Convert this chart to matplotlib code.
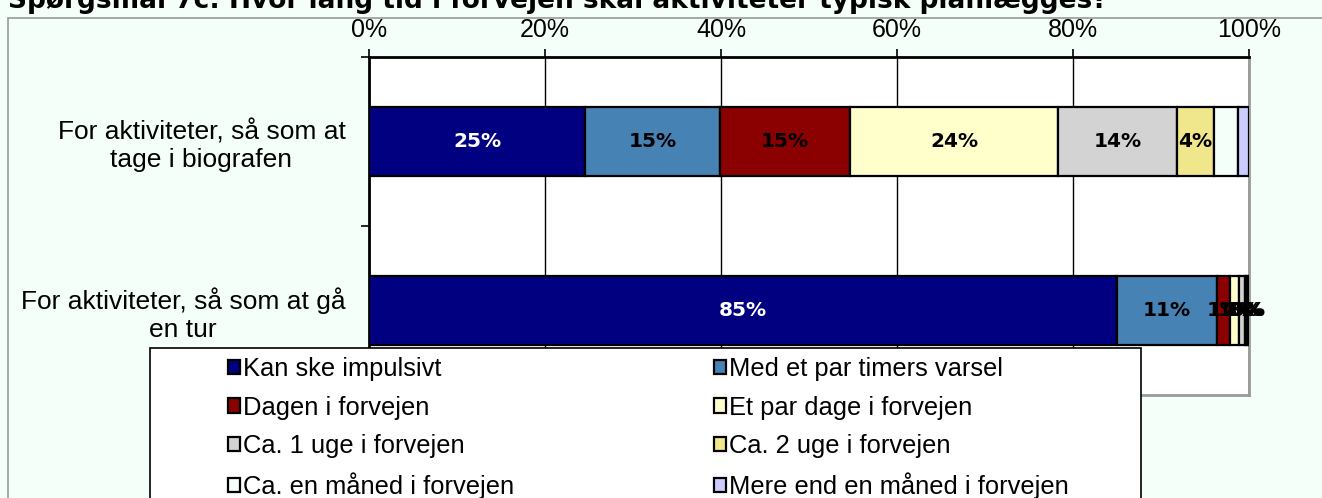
import matplotlib.pyplot as plt
from matplotlib.patches import Rectangle
from matplotlib.ticker import FixedLocator, PercentFormatter

categories = ["For aktiviteter, så som at\ntage i biografen",
              "For aktiviteter, så som at gå\nen tur"]
series = ["Kan ske impulsivt", "Med et par timers varsel",
          "Dagen i forvejen", "Et par dage i forvejen",
          "Ca. 1 uge i forvejen", "Ca. 2 uge i forvejen",
          "Ca. en måned i forvejen", "Mere end en måned i forvejen"]
values_bio = [24.6, 15.3, 14.8, 23.6, 13.5, 4.2, 2.7, 1.3]
values_tur = [85.0, 11.4, 1.4, 1.1, 0.6, 0.2, 0.2, 0.1]
labels_bio = ["25%", "15%", "15%", "24%", "14%", "4%", "", ""]
labels_tur = ["85%", "11%", "1%", "1%", "1%", "0%", "0%", "0%"]
colors = ["#000080", "#4682B4", "#8B0000", "#FFFFCC",
          "#D3D3D3", "#F0E68C", "#F5FFFA", "#CCCCFF"]
text_colors = ["white", "black", "black", "black",
               "black", "black", "black", "black"]
title = "Spørgsmål 7c: Hvor lang tid i forvejen skal aktiviteter typisk planlægges?"

W, H = 1322, 498
BG = "#F5FFFA"

plt.rcParams["font.family"] = ["Liberation Sans", "DejaVu Sans"]

fig = plt.figure(figsize=(W / 100, H / 100), dpi=100, facecolor=BG)

# chart area border
fig.patches.append(Rectangle((8 / W, -0.1), 1.2, 1.1 - 18 / H,
                             transform=fig.transFigure, facecolor="none",
                             edgecolor="#999999", linewidth=1.2))

fig.text(8 / W, 1 - 8 / H, title, fontsize=19, fontweight="bold",
         family="DejaVu Sans", va="baseline", ha="left")

ax = fig.add_axes([369 / W, 1 - 395 / H, 880 / W, 338 / H])
ax.set_facecolor("white")

rows = [(values_bio, labels_bio), (values_tur, labels_tur)]
for i, (vals, labs) in enumerate(rows):
    left = 0.0
    for j, v in enumerate(vals):
        ax.barh(i, v, left=left, height=0.41, color=colors[j],
                edgecolor="black", linewidth=1.6, zorder=3,
                label=series[j] if i == 0 else None)
        if labs[j]:
            ax.text(left + v / 2, i, labs[j], ha="center", va="center",
                    fontsize=14.5, fontweight="bold", family="DejaVu Sans",
                    color=text_colors[j], zorder=4)
        left += v

ax.set_xlim(0, 100)
ax.set_ylim(1.5, -0.5)
ax.xaxis.set_major_locator(FixedLocator([0, 20, 40, 60, 80, 100]))
ax.xaxis.set_major_formatter(PercentFormatter(decimals=0))
ax.xaxis.tick_top()
ax.tick_params(axis="x", direction="out", length=6, width=1.2,
               labelsize=18, pad=5)
ax.grid(axis="x", color="black", linewidth=1, zorder=0)

ax.yaxis.set_major_locator(FixedLocator([-0.5, 0.5, 1.5]))
ax.yaxis.set_major_formatter(plt.NullFormatter())
ax.yaxis.set_minor_locator(FixedLocator([0, 1]))
ax.set_yticklabels(categories, minor=True, fontsize=19,
                   multialignment="center")
ax.tick_params(axis="y", which="major", direction="out", length=6, width=1.2)
ax.tick_params(axis="y", which="minor", length=0, pad=17)

for side in ["left", "top"]:
    ax.spines[side].set_color("black")
    ax.spines[side].set_linewidth(2)
for side in ["right", "bottom"]:
    ax.spines[side].set_color("#999999")
    ax.spines[side].set_linewidth(2)

# legend box
fig.patches.append(Rectangle((150 / W, -0.1), 991 / W, 0.1 + 1 - 348 / H,
                             transform=fig.transFigure, facecolor="white",
                             edgecolor="black", linewidth=1.2, zorder=5))

handles, labels = ax.get_legend_handles_labels()
for col, x0 in enumerate([228, 714]):
    idx = list(range(col, len(series), 2))
    leg = fig.legend([handles[k] for k in idx], [labels[k] for k in idx],
                     loc="upper left", bbox_to_anchor=(x0 / W, 1 - 357 / H),
                     frameon=False, fontsize=18.4, handlelength=0.47,
                     handleheight=0.47, handletextpad=0.1,
                     labelspacing=0.57, borderpad=0, borderaxespad=0)
    leg.set_zorder(6)

fig.savefig("out.png", dpi=100, facecolor=BG)
